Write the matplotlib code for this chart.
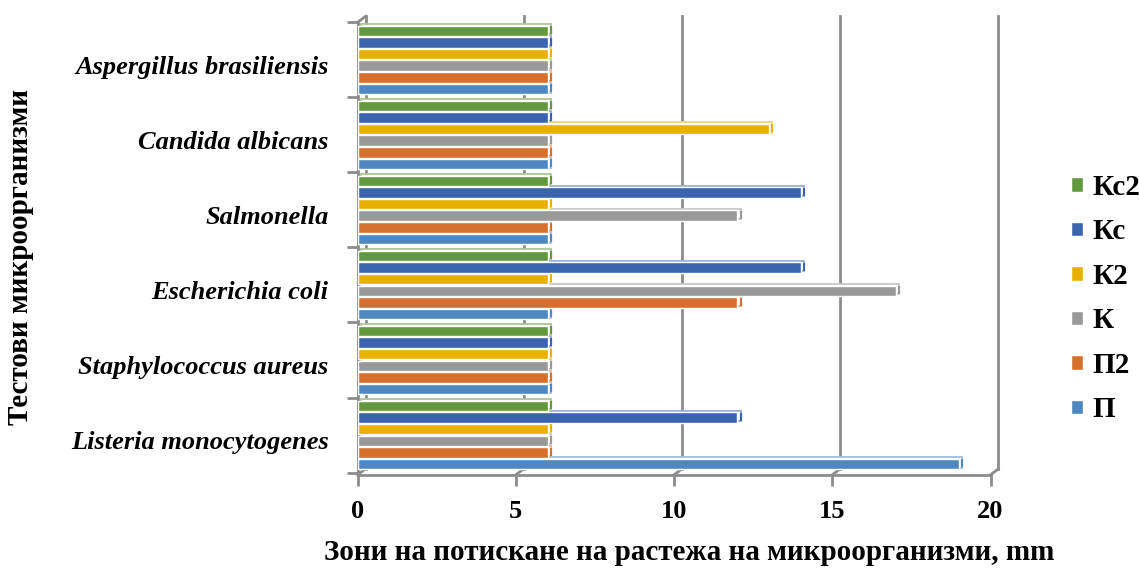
import numpy as np
import matplotlib.pyplot as plt
from matplotlib.colors import to_rgb

plt.rcParams['font.family'] = ['Liberation Serif', 'DejaVu Serif']

# Categories from bottom to top
categories = ["Listeria monocytogenes", "Staphylococcus aureus", "Escherichia coli",
              "Salmonella", "Candida albicans", "Aspergillus brasiliensis"]

# Series (drawn bottom -> top inside each group)
series_names = ["П", "П2", "К", "К2", "Кс", "Кс2"]
p_vals = [19, 6, 6, 6, 6, 6]
p2_vals = [6, 6, 12, 6, 6, 6]
k_vals = [6, 6, 17, 12, 6, 6]
k2_vals = [6, 6, 6, 6, 13, 6]
kc_vals = [12, 6, 14, 14, 6, 6]
kc2_vals = [6, 6, 6, 6, 6, 6]
values = [p_vals, p2_vals, k_vals, k2_vals, kc_vals, kc2_vals]

colors = ["#4f88c0", "#d5702e", "#999999", "#e8b000", "#3a64ad", "#62983e"]

def lighten(c, f=0.55):
    r, g, b = to_rgb(c)
    return (r + (1 - r) * f, g + (1 - g) * f, b + (1 - b) * f)

fig = plt.figure(figsize=(11.39, 5.7), dpi=100)
ax = fig.add_axes([0.314, 0.167, 0.564, 0.807])

y = np.arange(len(categories))
bh = 0.14
step = 0.155
offsets = (np.arange(6) - 2.5) * step
depth_x, depth_y = 0.25, 0.08
y_lo, y_hi = -0.53, 5.58

# back-wall gridlines (shifted for the 3D look) + small diagonal links
for gx in [0, 5, 10, 15, 20]:
    ax.plot([gx + depth_x, gx + depth_x], [y_lo + depth_y, y_hi], color="#8c8c8c",
            lw=2, zorder=1)
    ax.plot([gx, gx + depth_x], [y_lo, y_lo + depth_y], color="#8c8c8c", lw=2,
            zorder=1, clip_on=False)
ax.plot([0, depth_x], [y_hi - depth_y, y_hi], color="#8c8c8c", lw=2, clip_on=False)

for i, (name, vals, c) in enumerate(zip(series_names, values, colors)):
    # thin depth face behind each bar (3D look)
    ax.barh(y + offsets[i] + 0.022, np.array(vals), height=bh, left=0.1,
            color="white", edgecolor=lighten(c, 0.45), linewidth=1.3, zorder=2)
    ax.plot(np.array(vals) + 0.1, y + offsets[i] + 0.01, ls="none", marker="|",
            ms=6, mew=1.6, color=c, zorder=2.5)
    ax.barh(y + offsets[i], vals, height=bh, color=c, edgecolor="white",
            linewidth=1.0, label=name, zorder=3)

ax.set_xlim(0, 20.3)
ax.set_ylim(y_lo, 5.6)

for s in ["top", "right"]:
    ax.spines[s].set_visible(False)
ax.spines["left"].set_color("#8c8c8c")
ax.spines["left"].set_linewidth(2)
ax.spines["bottom"].set_color("#8c8c8c")
ax.spines["bottom"].set_linewidth(2)
ax.spines["left"].set_bounds(y_lo, y_hi - depth_y)
ax.spines["bottom"].set_bounds(0, 20)

ax.set_xticks([0, 5, 10, 15, 20])
ax.set_xticklabels(["0", "5", "10", "15", "20"], fontsize=19, fontweight="bold")
ax.tick_params(axis="x", length=8, width=2, color="#8c8c8c", pad=10)

ax.set_yticks(y - 0.07)
ax.set_yticklabels(categories, fontsize=19, fontweight="bold", style="italic")
ax.tick_params(axis="y", length=0, pad=21)
ax.set_yticks(np.arange(-0.5, 5.6, 1.0), minor=True)
ax.tick_params(axis="y", which="minor", length=8, width=2, color="#8c8c8c")

fig.text(0.605, 0.03, "Зони на потискане на растежа на микроорганизми, mm",
         ha="center", va="center", fontsize=21, fontweight="bold")
fig.text(0.018, 0.549, "Тестови микроорганизми", ha="center", va="center",
         rotation=90, fontsize=21, fontweight="bold")

handles, labels = ax.get_legend_handles_labels()
leg = fig.legend(handles[::-1], labels[::-1], loc="center left",
                 bbox_to_anchor=(0.93, 0.476), frameon=False, borderaxespad=0,
                 prop={"family": "Liberation Serif", "weight": "bold", "size": 21},
                 handlelength=0.4, handleheight=0.4, handletextpad=0.35,
                 labelspacing=0.6)

fig.savefig("out.png", dpi=100)
